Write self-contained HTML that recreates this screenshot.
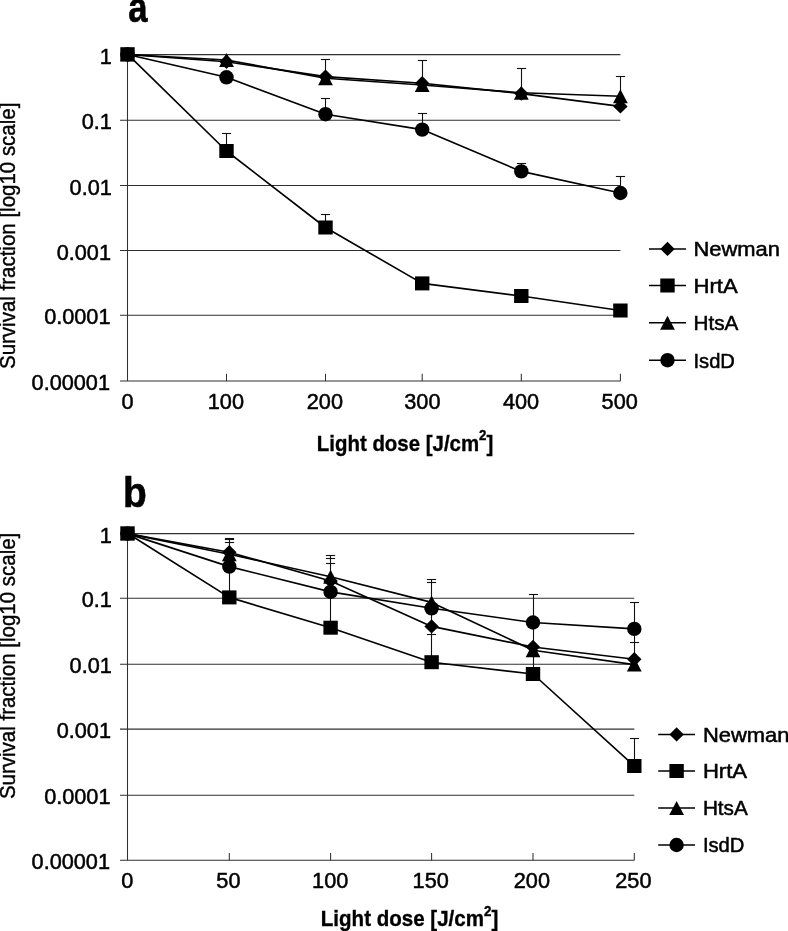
<!DOCTYPE html>
<html><head><meta charset="utf-8"><title>Figure</title>
<style>html,body{margin:0;padding:0;background:#fff;overflow:hidden}svg{display:block}text{font-family:"Liberation Sans",sans-serif;fill:#000}.r text{stroke:#000;stroke-width:.5px}</style></head><body>
<svg width="788" height="931" viewBox="0 0 788 931">
<rect width="788" height="931" fill="#fff"/>
<g stroke="#303030" stroke-width="1.05" fill="none">
<line x1="120" y1="54.6" x2="620.4" y2="54.6"/>
<line x1="120" y1="120.3" x2="620.4" y2="120.3"/>
<line x1="120" y1="185.5" x2="620.4" y2="185.5"/>
<line x1="120" y1="250.4" x2="620.4" y2="250.4"/>
<line x1="120" y1="315.3" x2="620.4" y2="315.3"/>
<line x1="120" y1="381" x2="620.4" y2="381"/>
<line x1="127.5" y1="54.6" x2="127.5" y2="381"/>
<line x1="226.5" y1="373.8" x2="226.5" y2="381"/>
<line x1="325.5" y1="373.8" x2="325.5" y2="381"/>
<line x1="422.2" y1="373.8" x2="422.2" y2="381"/>
<line x1="521.3" y1="373.8" x2="521.3" y2="381"/>
<line x1="620.4" y1="373.8" x2="620.4" y2="381"/>
</g>
<g stroke="#111" stroke-width="1.1" fill="none">
<line x1="226.5" y1="133" x2="226.5" y2="151"/>
<line x1="221.9" y1="133.5" x2="231.1" y2="133.5"/>
<line x1="325.5" y1="59" x2="325.5" y2="78"/>
<line x1="320.9" y1="59.5" x2="330.1" y2="59.5"/>
<line x1="325.5" y1="98" x2="325.5" y2="114"/>
<line x1="320.9" y1="98.5" x2="330.1" y2="98.5"/>
<line x1="325.5" y1="214" x2="325.5" y2="227"/>
<line x1="320.9" y1="214.5" x2="330.1" y2="214.5"/>
<line x1="422.5" y1="60" x2="422.5" y2="85"/>
<line x1="417.9" y1="60.5" x2="427.1" y2="60.5"/>
<line x1="422.5" y1="113" x2="422.5" y2="129"/>
<line x1="417.9" y1="113.5" x2="427.1" y2="113.5"/>
<line x1="521.5" y1="68" x2="521.5" y2="93"/>
<line x1="516.9" y1="68.5" x2="526.1" y2="68.5"/>
<line x1="521.5" y1="163" x2="521.5" y2="171"/>
<line x1="516.9" y1="163.5" x2="526.1" y2="163.5"/>
<line x1="620.5" y1="76" x2="620.5" y2="96"/>
<line x1="615.9" y1="76.5" x2="625.1" y2="76.5"/>
<line x1="620.5" y1="176" x2="620.5" y2="193"/>
<line x1="615.9" y1="176.5" x2="625.1" y2="176.5"/>
</g>
<polyline points="127.5,54.5 226.5,61.8 325.5,76.6 422.2,83.2 521.3,93.6 620.4,106.4" fill="none" stroke="#000" stroke-width="1.65" stroke-linejoin="round"/>
<g fill="#000">
<polygon points="127.5,47.3 134.7,54.5 127.5,61.7 120.3,54.5"/>
<polygon points="226.5,54.6 233.7,61.8 226.5,69 219.3,61.8"/>
<polygon points="325.5,69.4 332.7,76.6 325.5,83.8 318.3,76.6"/>
<polygon points="422.2,76 429.4,83.2 422.2,90.4 415,83.2"/>
<polygon points="521.3,86.4 528.5,93.6 521.3,100.8 514.1,93.6"/>
<polygon points="620.4,99.2 627.6,106.4 620.4,113.6 613.2,106.4"/>
</g>
<polyline points="127.5,54.2 226.5,151 325.5,227.5 422.2,283.4 521.3,296 620.4,310.5" fill="none" stroke="#000" stroke-width="1.65" stroke-linejoin="round"/>
<g fill="#000">
<rect x="120.3" y="47.2" width="14.4" height="14"/>
<rect x="219.3" y="144" width="14.4" height="14"/>
<rect x="318.3" y="220.5" width="14.4" height="14"/>
<rect x="415" y="276.4" width="14.4" height="14"/>
<rect x="514.1" y="289" width="14.4" height="14"/>
<rect x="613.2" y="303.5" width="14.4" height="14"/>
</g>
<polyline points="127.5,54.5 226.5,60 325.5,78.3 422.2,85 521.3,92.8 620.4,96.2" fill="none" stroke="#000" stroke-width="1.65" stroke-linejoin="round"/>
<g fill="#000">
<polygon points="127.5,47.5 134.9,61.5 120.1,61.5"/>
<polygon points="226.5,53 233.9,67 219.1,67"/>
<polygon points="325.5,71.3 332.9,85.3 318.1,85.3"/>
<polygon points="422.2,78 429.6,92 414.8,92"/>
<polygon points="521.3,85.8 528.7,99.8 513.9,99.8"/>
<polygon points="620.4,89.2 627.8,103.2 613,103.2"/>
</g>
<polyline points="127.5,54.5 226.5,77.3 325.5,114.2 422.2,129.6 521.3,171.4 620.4,193" fill="none" stroke="#000" stroke-width="1.65" stroke-linejoin="round"/>
<g fill="#000">
<circle cx="127.5" cy="54.5" r="7.2"/>
<circle cx="226.5" cy="77.3" r="7.2"/>
<circle cx="325.5" cy="114.2" r="7.2"/>
<circle cx="422.2" cy="129.6" r="7.2"/>
<circle cx="521.3" cy="171.4" r="7.2"/>
<circle cx="620.4" cy="193" r="7.2"/>
</g>
<g class="r" font-size="21.7" text-anchor="end" fill="#000">
<text x="111.8" y="63.7">1</text>
<text x="111.8" y="129.4">0.1</text>
<text x="111.8" y="194.6">0.01</text>
<text x="111.0" y="259.5">0.001</text>
<text x="110.5" y="324.4">0.0001</text>
<text x="110.0" y="390.1">0.00001</text>
</g>
<g class="r" font-size="21.7" text-anchor="middle" fill="#000">
<text x="127.5" y="409.3">0</text>
<text x="225.9" y="409.3">100</text>
<text x="324.9" y="409.3">200</text>
<text x="422.4" y="409.3">300</text>
<text x="521.1" y="409.3">400</text>
<text x="619.7" y="409.3">500</text>
</g>
<line x1="649" y1="248.9" x2="686" y2="248.9" stroke="#000" stroke-width="1.5"/>
<g fill="#000"><polygon points="667.5,241.7 674.7,248.9 667.5,256.1 660.3,248.9"/></g>
<text x="693.5" y="256.2" font-size="19.8" stroke="#000" stroke-width="0.5" textLength="86.5" lengthAdjust="spacingAndGlyphs">Newman</text>
<line x1="649" y1="285.5" x2="686" y2="285.5" stroke="#000" stroke-width="1.5"/>
<g fill="#000"><rect x="660.3" y="278.5" width="14.4" height="14"/></g>
<text x="693.5" y="292.8" font-size="19.8" stroke="#000" stroke-width="0.5" textLength="44.2" lengthAdjust="spacingAndGlyphs">HrtA</text>
<line x1="649" y1="322.7" x2="686" y2="322.7" stroke="#000" stroke-width="1.5"/>
<g fill="#000"><polygon points="667.5,315.7 674.9,329.7 660.1,329.7"/></g>
<text x="693.5" y="330" font-size="19.8" stroke="#000" stroke-width="0.5" textLength="44.9" lengthAdjust="spacingAndGlyphs">HtsA</text>
<line x1="649" y1="360.2" x2="686" y2="360.2" stroke="#000" stroke-width="1.5"/>
<g fill="#000"><circle cx="667.5" cy="360.2" r="7.2"/></g>
<text x="693.5" y="367.5" font-size="19.8" stroke="#000" stroke-width="0.5" textLength="41.4" lengthAdjust="spacingAndGlyphs">IsdD</text>
<text transform="translate(128.2,22) scale(0.8,1)" font-size="43.3" font-weight="bold" stroke="#000" stroke-width="0.6">a</text>
<text x="316.8" y="450.6" font-size="22.3" font-weight="bold" stroke="#000" stroke-width="0.35" textLength="176.5" lengthAdjust="spacingAndGlyphs">Light dose [J/cm<tspan font-size="14.5" dy="-10.3">2</tspan><tspan dy="10.3">]</tspan></text>
<text transform="translate(14.8,369) rotate(-90)" font-size="22.3" stroke="#000" stroke-width="0.4" textLength="266.4" lengthAdjust="spacingAndGlyphs">Survival fraction [log10 scale]</text>
<g stroke="#303030" stroke-width="1.05" fill="none">
<line x1="120" y1="533.6" x2="634.3" y2="533.6"/>
<line x1="120" y1="598.3" x2="634.3" y2="598.3"/>
<line x1="120" y1="664.3" x2="634.3" y2="664.3"/>
<line x1="120" y1="729.1" x2="634.3" y2="729.1"/>
<line x1="120" y1="795.2" x2="634.3" y2="795.2"/>
<line x1="120" y1="860.2" x2="634.3" y2="860.2"/>
<line x1="127.5" y1="533.6" x2="127.5" y2="860.2"/>
<line x1="229.3" y1="853" x2="229.3" y2="860.2"/>
<line x1="330.6" y1="853" x2="330.6" y2="860.2"/>
<line x1="431.6" y1="853" x2="431.6" y2="860.2"/>
<line x1="533" y1="853" x2="533" y2="860.2"/>
<line x1="634.3" y1="853" x2="634.3" y2="860.2"/>
</g>
<g stroke="#111" stroke-width="1.1" fill="none">
<line x1="229.5" y1="538" x2="229.5" y2="597"/>
<line x1="224.9" y1="538.5" x2="234.1" y2="538.5"/>
<line x1="224.9" y1="539.5" x2="234.1" y2="539.5"/>
<line x1="224.9" y1="542.5" x2="234.1" y2="542.5"/>
<line x1="330.5" y1="555" x2="330.5" y2="627"/>
<line x1="325.9" y1="555.5" x2="335.1" y2="555.5"/>
<line x1="325.9" y1="558.5" x2="335.1" y2="558.5"/>
<line x1="325.9" y1="563.5" x2="335.1" y2="563.5"/>
<line x1="431.5" y1="579" x2="431.5" y2="662"/>
<line x1="426.9" y1="579.5" x2="436.1" y2="579.5"/>
<line x1="426.9" y1="582.5" x2="436.1" y2="582.5"/>
<line x1="426.9" y1="634.5" x2="436.1" y2="634.5"/>
<line x1="533.5" y1="594" x2="533.5" y2="674"/>
<line x1="528.9" y1="594.5" x2="538.1" y2="594.5"/>
<line x1="634.5" y1="602" x2="634.5" y2="660"/>
<line x1="629.9" y1="602.5" x2="639.1" y2="602.5"/>
<line x1="629.9" y1="642.5" x2="639.1" y2="642.5"/>
<line x1="634.5" y1="738" x2="634.5" y2="766"/>
<line x1="629.9" y1="738.5" x2="639.1" y2="738.5"/>
</g>
<polyline points="127.5,533.6 229.3,552.2 330.6,581 431.6,626.4 533,647 634.3,659.2" fill="none" stroke="#000" stroke-width="1.65" stroke-linejoin="round"/>
<g fill="#000">
<polygon points="127.5,526.4 134.7,533.6 127.5,540.8 120.3,533.6"/>
<polygon points="229.3,545 236.5,552.2 229.3,559.4 222.1,552.2"/>
<polygon points="330.6,573.8 337.8,581 330.6,588.2 323.4,581"/>
<polygon points="431.6,619.2 438.8,626.4 431.6,633.6 424.4,626.4"/>
<polygon points="533,639.8 540.2,647 533,654.2 525.8,647"/>
<polygon points="634.3,652 641.5,659.2 634.3,666.4 627.1,659.2"/>
</g>
<polyline points="127.5,533.3 229.3,597.4 330.6,627.7 431.6,662.2 533,674 634.3,766" fill="none" stroke="#000" stroke-width="1.65" stroke-linejoin="round"/>
<g fill="#000">
<rect x="120.3" y="526.3" width="14.4" height="14"/>
<rect x="222.1" y="590.4" width="14.4" height="14"/>
<rect x="323.4" y="620.7" width="14.4" height="14"/>
<rect x="424.4" y="655.2" width="14.4" height="14"/>
<rect x="525.8" y="667" width="14.4" height="14"/>
<rect x="627.1" y="759" width="14.4" height="14"/>
</g>
<polyline points="127.5,533.6 229.3,554.3 330.6,576.7 431.6,602.4 533,650.3 634.3,664.6" fill="none" stroke="#000" stroke-width="1.65" stroke-linejoin="round"/>
<g fill="#000">
<polygon points="127.5,526.6 134.9,540.6 120.1,540.6"/>
<polygon points="229.3,547.3 236.7,561.3 221.9,561.3"/>
<polygon points="330.6,569.7 338,583.7 323.2,583.7"/>
<polygon points="431.6,595.4 439,609.4 424.2,609.4"/>
<polygon points="533,643.3 540.4,657.3 525.6,657.3"/>
<polygon points="634.3,657.6 641.7,671.6 626.9,671.6"/>
</g>
<polyline points="127.5,533.6 229.3,566.6 330.6,591.9 431.6,608.3 533,622.5 634.3,628.9" fill="none" stroke="#000" stroke-width="1.65" stroke-linejoin="round"/>
<g fill="#000">
<circle cx="127.5" cy="533.6" r="7.2"/>
<circle cx="229.3" cy="566.6" r="7.2"/>
<circle cx="330.6" cy="591.9" r="7.2"/>
<circle cx="431.6" cy="608.3" r="7.2"/>
<circle cx="533" cy="622.5" r="7.2"/>
<circle cx="634.3" cy="628.9" r="7.2"/>
</g>
<g class="r" font-size="21.7" text-anchor="end" fill="#000">
<text x="111.8" y="542.7">1</text>
<text x="111.8" y="607.4">0.1</text>
<text x="111.8" y="673.4">0.01</text>
<text x="111.0" y="738.2">0.001</text>
<text x="110.5" y="804.3">0.0001</text>
<text x="110.0" y="869.3">0.00001</text>
</g>
<g class="r" font-size="21.7" text-anchor="middle" fill="#000">
<text x="127.3" y="887.6">0</text>
<text x="228.4" y="887.6">50</text>
<text x="330.2" y="887.6">100</text>
<text x="430.7" y="887.6">150</text>
<text x="531.9" y="887.6">200</text>
<text x="633.4" y="887.6">250</text>
</g>
<line x1="658.2" y1="734.4" x2="695" y2="734.4" stroke="#000" stroke-width="1.5"/>
<g fill="#000"><polygon points="676.6,727.2 683.8,734.4 676.6,741.6 669.4,734.4"/></g>
<text x="702.9" y="741.7" font-size="19.8" stroke="#000" stroke-width="0.5" textLength="86.5" lengthAdjust="spacingAndGlyphs">Newman</text>
<line x1="658.2" y1="771" x2="695" y2="771" stroke="#000" stroke-width="1.5"/>
<g fill="#000"><rect x="669.4" y="764" width="14.4" height="14"/></g>
<text x="702.9" y="778.3" font-size="19.8" stroke="#000" stroke-width="0.5" textLength="44.2" lengthAdjust="spacingAndGlyphs">HrtA</text>
<line x1="658.2" y1="808" x2="695" y2="808" stroke="#000" stroke-width="1.5"/>
<g fill="#000"><polygon points="676.6,801 684,815 669.2,815"/></g>
<text x="702.9" y="815.3" font-size="19.8" stroke="#000" stroke-width="0.5" textLength="44.9" lengthAdjust="spacingAndGlyphs">HtsA</text>
<line x1="658.2" y1="845" x2="695" y2="845" stroke="#000" stroke-width="1.5"/>
<g fill="#000"><circle cx="676.6" cy="845" r="7.2"/></g>
<text x="702.9" y="852.3" font-size="19.8" stroke="#000" stroke-width="0.5" textLength="41.4" lengthAdjust="spacingAndGlyphs">IsdD</text>
<text transform="translate(123,506.8) scale(0.9,1)" font-size="43.3" font-weight="bold" stroke="#000" stroke-width="0.6">b</text>
<text x="320.8" y="926.2" font-size="22.3" font-weight="bold" stroke="#000" stroke-width="0.35" textLength="177.5" lengthAdjust="spacingAndGlyphs">Light dose [J/cm<tspan font-size="14.5" dy="-10.3">2</tspan><tspan dy="10.3">]</tspan></text>
<text transform="translate(14.8,799.1) rotate(-90)" font-size="22.3" stroke="#000" stroke-width="0.4" textLength="266.4" lengthAdjust="spacingAndGlyphs">Survival fraction [log10 scale]</text>
</svg></body></html>
